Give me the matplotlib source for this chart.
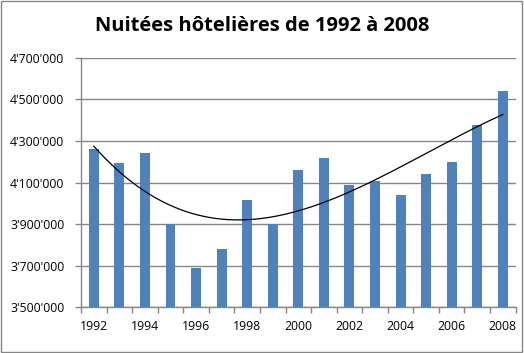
import numpy as np
import matplotlib
matplotlib.use('Agg')
import matplotlib.pyplot as plt
from matplotlib.patches import Rectangle
from matplotlib.ticker import FuncFormatter

years = list(range(1992, 2009))
nights = [4261000, 4194000, 4242000, 3901000, 3689000, 3780000, 4016000, 3899000,
          4160000, 4218000, 4088000, 4107000, 4040000, 4141000, 4199000, 4376000, 4540000]
yTicks = [3500000, 3700000, 3900000, 4100000, 4300000, 4500000, 4700000]
title = 'Nuitées hôtelières de 1992 à 2008'

def swissFormat(value, pos):
    # Thousands separated by apostrophes
    return f'{int(value):,}'.replace(',', "'")

fig = plt.figure(figsize=(5.24, 3.53), dpi=100)
ax = fig.add_axes([0.1546, 0.1295, 0.8294, 0.707])

x = np.arange(len(years))
ax.bar(x, nights, width=0.39, color='#4F81BD', zorder=3)

# Polynomial trend line (order 3)
coeffs = np.polyfit(x, nights, 3)
xs = np.linspace(0, len(years) - 1, 200)
ax.plot(xs, np.polyval(coeffs, xs), color='black', linewidth=0.9, zorder=4)

ax.set_xlim(-0.5, len(years) - 0.5)
ax.set_ylim(yTicks[0], yTicks[-1])
ax.set_yticks(yTicks)
ax.yaxis.set_major_formatter(FuncFormatter(swissFormat))
ax.grid(axis='y', color='#868686', linewidth=1, zorder=0)

# Category labels on even years, tick marks between categories
ax.set_xticks(x[::2])
ax.set_xticklabels([str(y) for y in years[::2]])
ax.tick_params(axis='x', length=0, pad=9)
ax.set_xticks(np.arange(-0.5, len(years)), minor=True)
ax.tick_params(axis='x', which='minor', length=4, color='#868686', width=1)
ax.tick_params(axis='y', length=4, color='#868686', width=1, pad=8)

for label in ax.get_xticklabels() + ax.get_yticklabels():
    label.set_fontfamily('Open Sans')
    label.set_fontsize(8.8)

for side in ['top', 'right']:
    ax.spines[side].set_visible(False)
for side in ['left', 'bottom']:
    ax.spines[side].set_color('#868686')
    ax.spines[side].set_linewidth(1)

fig.text(0.5, 0.925, title, ha='center', va='center', fontsize=14.5,
         fontweight='bold', fontfamily='Open Sans')

# Chart border
fig.add_artist(Rectangle((0.002, 0.003), 0.995, 0.993, transform=fig.transFigure,
                         fill=False, edgecolor='#868686', linewidth=1))

fig.savefig('out.png', dpi=100)
